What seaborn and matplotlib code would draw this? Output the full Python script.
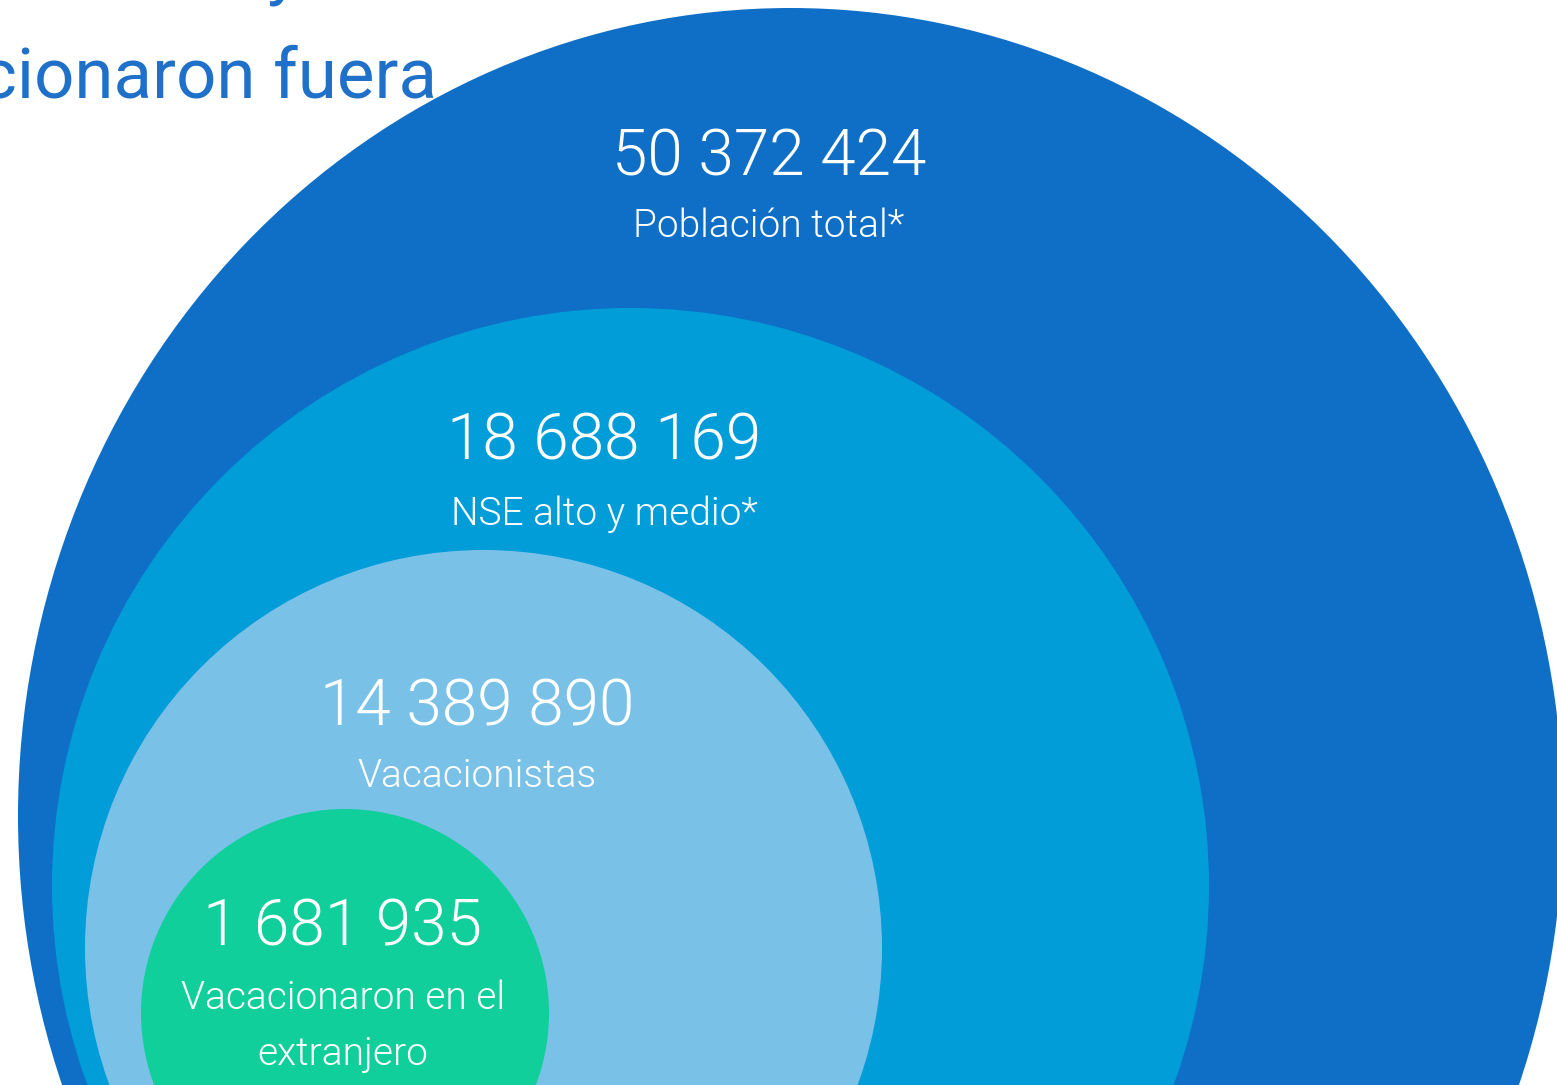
import matplotlib
matplotlib.use("Agg")
import matplotlib.pyplot as plt
import seaborn as sns
from matplotlib.patches import Ellipse

# data
values = [50372424, 18688169, 14389890, 1681935]
labels = ["Población total*", "NSE alto y medio*", "Vacacionistas",
          "Vacacionaron en el\nextranjero"]
title_lines = ["y", "vacacionaron fuera"]

# layout (pixels, origin top-left)
W, H = 1557, 1085
shapes = [  # cx, cy, rx, ry
    (790.5, 816, 772.5, 808),
    (630.5, 886, 578.5, 578),
    (483.5, 948, 398.5, 398),
    (345.0, 1013, 204.0, 204),
]
colors = ["#0F6FC6", "#009DD9", "#7AC1E8", "#10CF9B"]
text_x = [769, 604, 477, 343]
num_base = [175, 460, 725, 946]
lab_base = [237, 525, 787, 1009]
line_step = 56

sns.set_theme(style="white")
plt.rcParams["font.family"] = ["Roboto", "DejaVu Sans"]

fig = plt.figure(figsize=(W / 100, H / 100), dpi=100)
ax = fig.add_axes([0, 0, 1, 1])
ax.set_xlim(0, W)
ax.set_ylim(H, 0)
ax.set_aspect("equal")
ax.axis("off")

for (cx, cy, rx, ry), c in zip(shapes, colors):
    ax.add_patch(Ellipse((cx, cy), 2 * rx, 2 * ry, facecolor=c,
                         edgecolor="none"))

for v, lab, x, nb, lb in zip(values, labels, text_x, num_base, lab_base):
    ax.text(x, nb, f"{v:,}".replace(",", " "), ha="center", va="baseline",
            color="white", fontsize=46, fontweight=300)
    for i, line in enumerate(lab.split("\n")):
        ax.text(x, lb + i * line_step, line, ha="center", va="baseline",
                color="white", fontsize=28, fontweight=300)

# title, cropped by the canvas edge
ax.text(300, -9, title_lines[0], ha="right", va="baseline", color="#1E70C8",
        fontsize=51)
ax.text(437, 98, title_lines[1], ha="right", va="baseline", color="#1E70C8",
        fontsize=51, zorder=0)

fig.savefig("out.png", dpi=100)
